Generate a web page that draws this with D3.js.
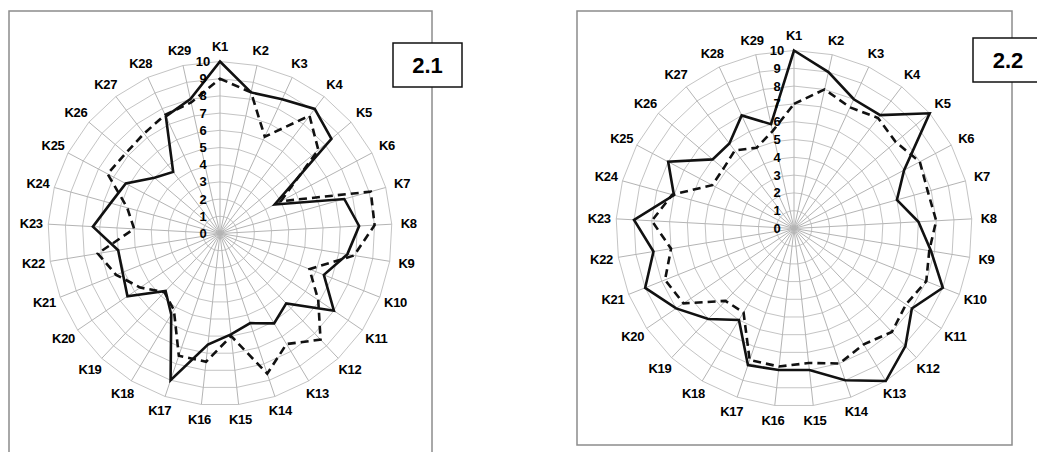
<!DOCTYPE html>
<html>
<head>
<meta charset="utf-8">
<script src="https://cdn.jsdelivr.net/npm/d3@7"></script>
<style>
  body { margin: 0; background: #fff; }
  text { font-family: "Liberation Sans", Arial, sans-serif; font-weight: bold; fill: #000; }
</style>
</head>
<body>
<div id="chart"></div>
<script>
// Axis names and ring ticks
const axes = ["K1","K2","K3","K4","K5","K6","K7","K8","K9","K10","K11","K12","K13","K14","K15",
              "K16","K17","K18","K19","K20","K21","K22","K23","K24","K25","K26","K27","K28","K29"];
const ticks = [0,1,2,3,4,5,6,7,8,9,10];

// Chart 2.1
const leftSolid  = [10, 8.4, 8.6, 9.1, 8.5, 3.6, 7.5, 8.1, 7.5, 6.5, 8.0, 5.6, 6.1, 5.5, 5.9,
                    6.5, 9.0, 5.5, 4.6, 6.5, 6.1, 6.0, 7.4, 6.6, 6.2, 5.0, 4.5, 7.5, 8.0];
const leftDashed = [9.0, 8.4, 6.2, 8.6, 7.5, 4.0, 9.1, 9.0, 7.9, 5.6, 6.9, 8.5, 7.5, 8.6, 6.0,
                    7.5, 7.5, 5.2, 4.7, 5.6, 6.5, 7.2, 5.0, 5.6, 7.4, 7.2, 7.3, 7.6, 7.8];

// Chart 2.2
const rightSolid  = [10, 9, 8, 8, 10, 7, 6, 7, 7.8, 9, 8, 9.1, 10, 9, 8,
                     8, 8.1, 6, 7, 8, 9, 8, 9, 7, 8, 6, 6, 7, 6];
const rightDashed = [7.0, 8.0, 7.5, 7.8, 7.5, 8.0, 7.8, 8.0, 7.7, 8.0, 7.6, 8.0, 7.6, 8.0, 7.6,
                     7.8, 7.8, 5.5, 5.6, 7.5, 7.8, 7.0, 8.0, 7.1, 5.2, 5.2, 5.5, 5.0, 5.6];

const W = 1037, H = 452;

const svg = d3.select("#chart")
  .append("svg")
  .attr("width", W)
  .attr("height", H);

svg.append("rect").attr("width", W).attr("height", H).attr("fill", "#fff");

const panels = [
  {title: "2.1", solid: leftSolid, dashed: leftDashed, cx: 220, cy: 233.5, R: 172,
   frame: {x0: 9, y0: 11, x1: 432, y1: 470}, box: {x: 393, y: 43, w: 69, h: 44}},
  {title: "2.2", solid: rightSolid, dashed: rightDashed, cx: 794, cy: 228.5, R: 178,
   frame: {x0: 577, y0: 11, x1: 1012, y1: 445}, box: {x: 973, y: 38, w: 70, h: 44}}
];

const angle = d3.scalePoint()
  .domain(axes)
  .range([0, 2 * Math.PI * (axes.length - 1) / axes.length]);

panels.forEach(p => {
  // frame
  svg.append("rect")
    .attr("x", p.frame.x0)
    .attr("y", p.frame.y0)
    .attr("width", p.frame.x1 - p.frame.x0)
    .attr("height", p.frame.y1 - p.frame.y0)
    .attr("fill", "none")
    .attr("stroke", "#8c8c8c")
    .attr("stroke-width", 1.5);

  const r = d3.scaleLinear().domain([0, 10]).range([0, p.R]);
  const g = svg.append("g").attr("transform", `translate(${p.cx},${p.cy})`);

  const ring = d3.lineRadial()
    .angle(d => angle(d))
    .curve(d3.curveLinearClosed);

  // rings
  g.selectAll(".ring")
    .data(ticks.slice(1))
    .join("path")
    .attr("d", t => ring.radius(r(t))(axes))
    .attr("fill", "none")
    .attr("stroke", "#c4c4c4")
    .attr("stroke-width", 1);

  // spokes
  g.selectAll(".spoke")
    .data(axes)
    .join("line")
    .attr("x1", 0).attr("y1", 0)
    .attr("x2", d => r(10) * Math.sin(angle(d)))
    .attr("y2", d => -r(10) * Math.cos(angle(d)))
    .attr("stroke", "#b4b4b4")
    .attr("stroke-width", 1);

  // axis labels
  g.selectAll(".lab")
    .data(axes)
    .join("text")
    .attr("x", d => (p.R + 17) * Math.sin(angle(d)))
    .attr("y", d => -(p.R + 15) * Math.cos(angle(d)))
    .attr("text-anchor", "middle")
    .attr("dominant-baseline", "central")
    .style("font-size", "13px")
    .style("letter-spacing", "-0.3px")
    .text(d => d);

  // data lines
  const line = d3.lineRadial()
    .angle((d, i) => angle(axes[i]))
    .radius(d => r(d))
    .curve(d3.curveLinearClosed);

  g.append("path")
    .attr("d", line(p.dashed))
    .attr("fill", "none")
    .attr("stroke", "#111")
    .attr("stroke-width", 2.6)
    .attr("stroke-dasharray", "8,5");

  g.append("path")
    .attr("d", line(p.solid))
    .attr("fill", "none")
    .attr("stroke", "#111")
    .attr("stroke-width", 2.6)
    .attr("stroke-linejoin", "miter");

  // tick labels along K1
  g.selectAll(".tick")
    .data(ticks)
    .join("text")
    .attr("x", -17)
    .attr("y", t => -r(t))
    .attr("text-anchor", "middle")
    .attr("dominant-baseline", "central")
    .style("font-size", "13px")
    .text(t => t);

  // title box
  svg.append("rect")
    .attr("x", p.box.x)
    .attr("y", p.box.y)
    .attr("width", p.box.w)
    .attr("height", p.box.h)
    .attr("fill", "#fff")
    .attr("stroke", "#111")
    .attr("stroke-width", 1.5);

  svg.append("text")
    .attr("x", p.box.x + p.box.w / 2)
    .attr("y", p.box.y + p.box.h / 2)
    .attr("text-anchor", "middle")
    .attr("dominant-baseline", "central")
    .style("font-size", "22px")
    .text(p.title);
});
</script>
</body>
</html>
